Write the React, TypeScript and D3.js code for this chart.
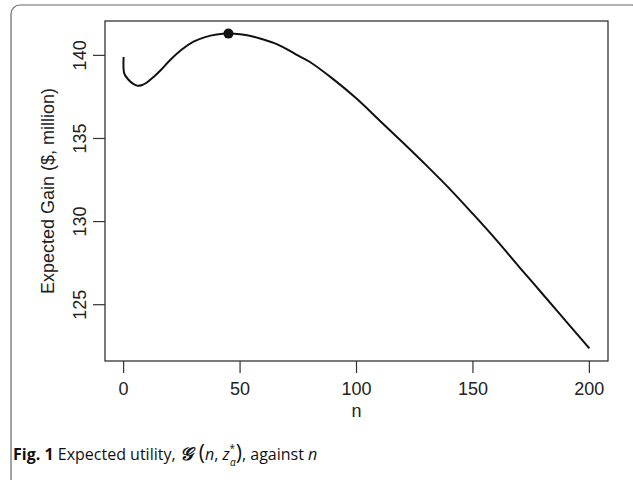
import React from "react";
import * as d3 from "d3";

const nValues = [0, 0.3, 2, 4, 6, 8, 10, 13, 16, 20, 25, 30, 35, 40, 45, 50, 55, 60, 65, 70, 75, 80, 90, 100, 110, 120, 130, 140, 150, 160, 170, 180, 190, 200];
const gainValues = [139.9, 138.9, 138.55, 138.3, 138.17, 138.22, 138.37, 138.72, 139.12, 139.72, 140.35, 140.82, 141.1, 141.25, 141.31, 141.27, 141.15, 140.95, 140.72, 140.38, 139.98, 139.6, 138.57, 137.4, 136.07, 134.74, 133.38, 131.97, 130.46, 128.9, 127.25, 125.63, 124.0, 122.37];
const optimumN = [45];
const optimumGain = [141.31];
const xTicks = [0, 50, 100, 150, 200];
const yTicks = [125, 130, 135, 140];

export default function App() {
  const W = 633, H = 480;
  const left = 105, right = 608, top = 21, bottom = 361;
  const xMin = d3.min(nValues)!, xMax = d3.max(nValues)!;
  const yMin = d3.min(gainValues)!, yMax = d3.max(gainValues)!;
  const xPad = (xMax - xMin) * 0.04, yPad = (yMax - yMin) * 0.04;
  const x = d3.scaleLinear().domain([xMin - xPad, xMax + xPad]).range([left, right]);
  const y = d3.scaleLinear().domain([yMin - yPad, yMax + yPad]).range([bottom, top]);
  const pts: [number, number][] = nValues.map((n, i) => [n, gainValues[i]]);
  const line = d3.line<[number, number]>().x(d => x(d[0])).y(d => y(d[1])).curve(d3.curveCatmullRom.alpha(0.5));
  const axisFont = "'Liberation Sans', Arial, sans-serif";
  const capFont = "'Open Sans', 'Noto Sans', sans-serif";
  const fs = 18;
  return (
    <svg width={W} height={H} style={{ position: "absolute", left: 0, top: 0, background: "#fff" }}>
      <rect x={11} y={5} width={630} height={490} rx={9} fill="none" stroke="#666" strokeWidth={1.2} />
      <rect x={left} y={top} width={right - left} height={bottom - top} fill="none" stroke="#222" strokeWidth={1.2} />
      <path d={line(pts)!} fill="none" stroke="#111" strokeWidth={2} />
      {optimumN.map((n, i) => (
        <circle key={i} cx={x(n)} cy={y(optimumGain[i])} r={5} fill="#111" />
      ))}
      {xTicks.map(t => (
        <g key={t}>
          <line x1={x(t)} x2={x(t)} y1={bottom} y2={bottom + 12} stroke="#333" strokeWidth={1.2} />
          <text x={x(t)} y={395} textAnchor="middle" fontFamily={axisFont} fontSize={fs} fill="#222">{t}</text>
        </g>
      ))}
      {yTicks.map(t => (
        <g key={t}>
          <line x1={left} x2={left - 12} y1={y(t)} y2={y(t)} stroke="#333" strokeWidth={1.2} />
          <text transform={`translate(86,${y(t)}) rotate(-90)`} textAnchor="middle" fontFamily={axisFont} fontSize={fs} fill="#222">{t}</text>
        </g>
      ))}
      <text x={(left + right) / 2} y={417} textAnchor="middle" fontFamily={axisFont} fontSize={fs} fill="#222">n</text>
      <text transform={`translate(54,${(top + bottom) / 2}) rotate(-90)`} textAnchor="middle" fontFamily={axisFont} fontSize={fs} fill="#222">Expected Gain ($, million)</text>
      <text x={13} y={460} fontFamily={capFont} fontSize={16} fill="#111">
        <tspan fontWeight="bold">Fig. 1</tspan>
        <tspan> Expected utility, </tspan>
        <tspan fontWeight="bold" fontStyle="italic" fontSize={18} fontFamily="'DejaVu Serif', serif">𝒢</tspan>
        <tspan fontSize={21} dx={6}>(</tspan>
        <tspan fontStyle="italic">n</tspan>
        <tspan>, </tspan>
        <tspan fontStyle="italic">z</tspan>
        <tspan fontSize={10} dy={-8}>*</tspan>
        <tspan fontSize={10} fontStyle="italic" dx={-5} dy={14}>α</tspan>
        <tspan fontSize={21} dy={-6}>)</tspan>
        <tspan>, against </tspan>
        <tspan fontStyle="italic">n</tspan>
      </text>
    </svg>
  );
}
